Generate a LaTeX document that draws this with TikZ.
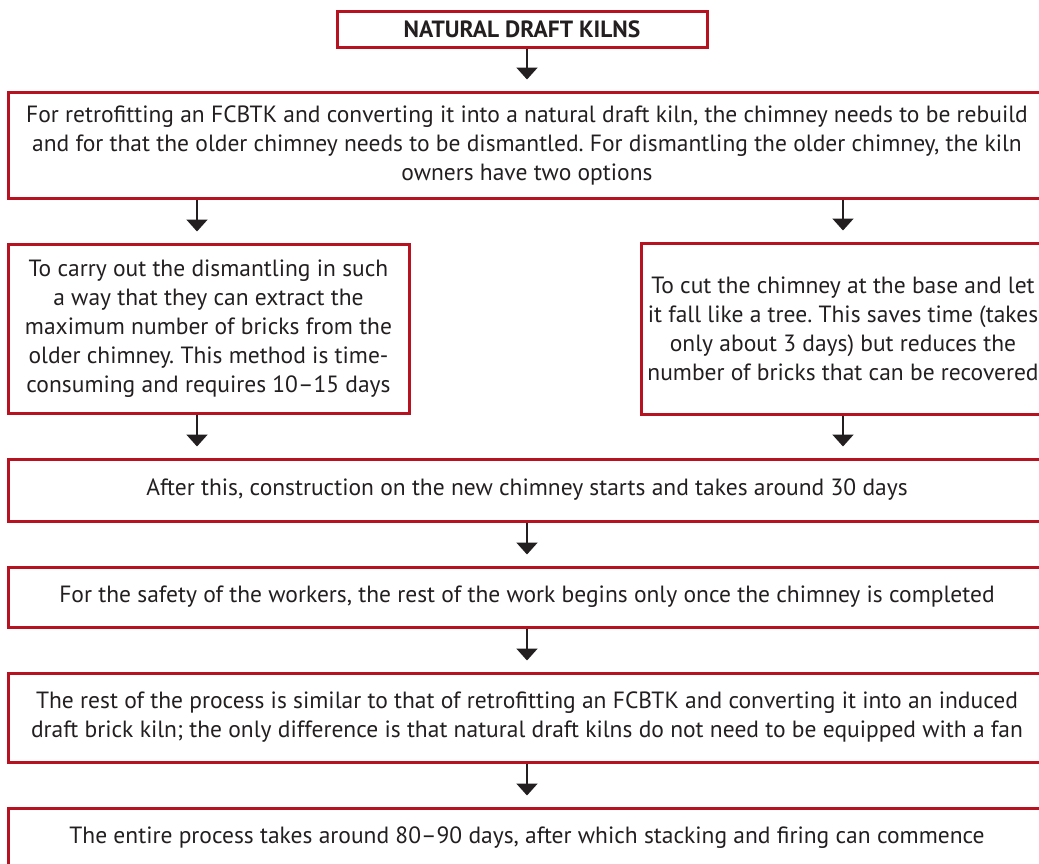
\documentclass[tikz,border=0pt]{standalone}
\usepackage{fontspec}
\setmainfont{PT Sans}
\usetikzlibrary{arrows.meta,positioning}
\definecolor{kilnred}{RGB}{183,18,32}
\definecolor{ink}{RGB}{35,31,32}
\frenchspacing
% boxes of the flow chart
\tikzstyle{stage}=[draw=kilnred, line width=3pt, text=ink, align=center,
  inner sep=0pt, font=\fontsize{23.5}{29}\selectfont]
\tikzstyle{wide stage}=[stage, minimum width=1038pt]
\tikzstyle{flow}=[ink, line width=2pt,
  -{Triangle[width=21pt,length=12pt]}, shorten >=11pt]

\begin{document}
\begin{tikzpicture}[x=1pt,y=1pt]
  \useasboundingbox (0,0) rectangle (1039,-863);
  % columns the arrows run in
  \coordinate (mid) at (527,0);
  \coordinate (lft) at (197,0);
  \coordinate (rgt) at (843,0);

  \node[stage, minimum width=370pt, minimum height=36pt,
    font=\fontsize{23.5}{29}\selectfont\bfseries] (title) at (522,-29)
    {NATURAL DRAFT KILNS};
  \node[wide stage, minimum height=106pt] (options) at (527,-145)
    {For retrofitting an FCBTK and converting it into a natural draft kiln, the chimney needs to be rebuild\\
     and for that the older chimney needs to be dismantled. For dismantling the older chimney, the kiln\\
     owners have two options};
  \node[stage, minimum width=401pt, minimum height=169pt] (keep) at (208.5,-328.5)
    {To carry out the dismantling in such\\
     a way that they can extract the\\
     maximum number of bricks from the\\
     older chimney. This method is time-\\
     consuming and requires 10--15 days};
  \node[stage, minimum width=404pt, minimum height=171pt] (fell) at (843,-328.5)
    {To cut the chimney at the base and let\\
     it fall like a tree. This saves time (takes\\
     only about 3 days) but reduces the\\
     number of bricks that can be recovered};
  \node[wide stage, minimum height=62pt] (build) at (527,-490)
    {After this, construction on the new chimney starts and takes around 30 days};
  \node[wide stage, minimum height=60pt] (safety) at (527,-597)
    {For the safety of the workers, the rest of the work begins only once the chimney is completed};
  \node[wide stage, minimum height=89pt] (rest) at (527,-717.5)
    {The rest of the process is similar to that of retrofitting an FCBTK and converting it into an induced\\
     draft brick kiln; the only difference is that natural draft kilns do not need to be equipped with a fan};
  \node[wide stage, minimum height=60pt] (total) at (527,-838)
    {The entire process takes around 80--90 days, after which stacking and firing can commence};

  \draw[flow] (title.south -| mid) -- (options.north -| mid);
  \draw[flow] (options.south -| lft) -- (keep.north -| lft);
  \draw[flow] (options.south -| rgt) -- (fell.north -| rgt);
  \draw[flow] (keep.south -| lft) -- (build.north -| lft);
  \draw[flow] (fell.south -| rgt) -- (build.north -| rgt);
  \draw[flow] (build.south -| mid) -- (safety.north -| mid);
  \draw[flow] (safety.south -| mid) -- (rest.north -| mid);
  \draw[flow] (rest.south -| mid) -- (total.north -| mid);
\end{tikzpicture}
\end{document}
